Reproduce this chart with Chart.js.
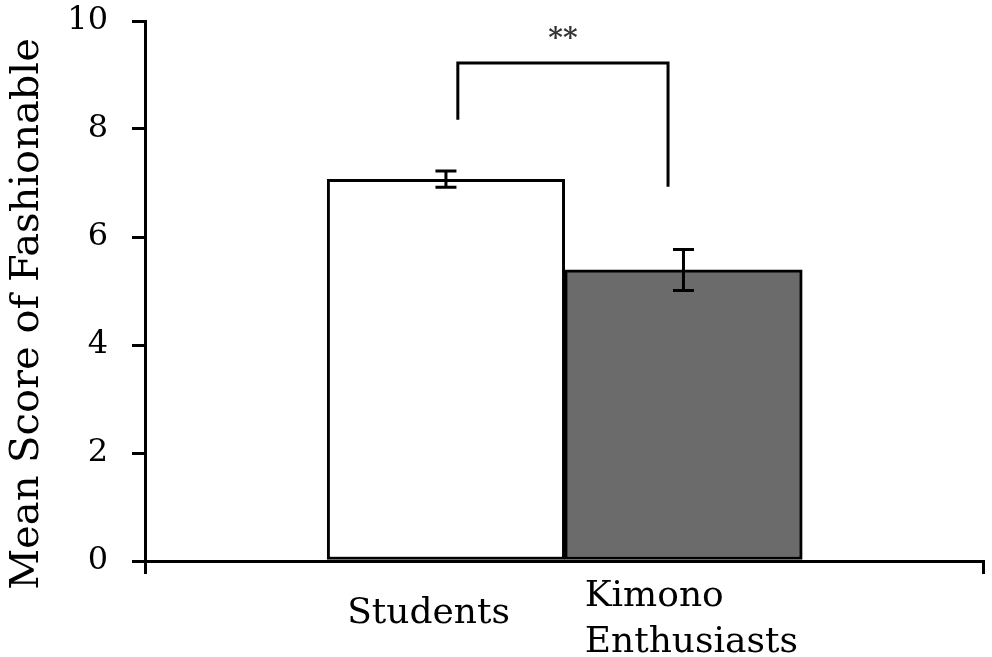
<!DOCTYPE html>
<html>
<head>
<meta charset="utf-8">
<script src="https://cdn.jsdelivr.net/npm/chart.js@4/dist/chart.umd.min.js"></script>
<style>
	html, body { margin: 0; padding: 0; background: #fff; }
	#wrap { width: 992px; height: 657px; }
</style>
</head>
<body>
<div id="wrap"><canvas id="fashion-bar-chart"></canvas></div>

<script>

	// data
	var groups = ['Students', ['Kimono', 'Enthusiasts']];
	var groupPos = [1, 2];
	var meanScore = [7.07, 5.39];
	var errScore = [0.15, 0.38];
	var barColors = ['#ffffff', '#6b6b6b'];
	var yTicks = [0, 2, 4, 6, 8, 10];
	var yTitle = 'Mean Score of Fashionable';

	// significance bracket
	var bracketX = [1.05, 1.935];
	var bracketLegEnd = [8.17, 6.93];
	var bracketTop = 9.22;
	var sigLabel = '**';
	var sigY = 9.72;

	var serif = "'DejaVu Serif', 'Liberation Serif', serif";

	var extrasPlugin = {
		id: 'extras',
		afterDatasetsDraw: function(chart) {
			var ctx = chart.ctx;
			var xs = chart.scales.x, ys = chart.scales.y;
			var area = chart.chartArea;
			var meta = chart.getDatasetMeta(0);
			ctx.save();
			ctx.strokeStyle = '#000';
			ctx.lineWidth = 3;
			ctx.lineCap = 'butt';

			// error bars
			for (var i = 0; i < meta.data.length; i++) {
				var bx = meta.data[i].x;
				var yHi = ys.getPixelForValue(meanScore[i] + errScore[i]);
				var yLo = ys.getPixelForValue(meanScore[i] - errScore[i]);
				ctx.beginPath();
				ctx.moveTo(bx, yHi); ctx.lineTo(bx, yLo);
				ctx.moveTo(bx - 10.5, yHi); ctx.lineTo(bx + 10.5, yHi);
				ctx.moveTo(bx - 10.5, yLo); ctx.lineTo(bx + 10.5, yLo);
				ctx.stroke();
			}

			// bracket
			var x0 = xs.getPixelForValue(bracketX[0]);
			var x1 = xs.getPixelForValue(bracketX[1]);
			var yt = ys.getPixelForValue(bracketTop);
			ctx.beginPath();
			ctx.lineJoin = 'miter';
			ctx.moveTo(x0, ys.getPixelForValue(bracketLegEnd[0]));
			ctx.lineTo(x0, yt);
			ctx.lineTo(x1, yt);
			ctx.lineTo(x1, ys.getPixelForValue(bracketLegEnd[1]));
			ctx.stroke();

			ctx.fillStyle = '#333';
			ctx.font = 'bold 28px ' + serif;
			ctx.textAlign = 'center';
			ctx.textBaseline = 'middle';
			ctx.fillText(sigLabel, (x0 + x1) / 2, ys.getPixelForValue(sigY) + 4);

			// category labels under the bars
			ctx.fillStyle = '#000';
			ctx.font = '36px ' + serif;
			ctx.textAlign = 'left';
			ctx.textBaseline = 'alphabetic';
			for (var j = 0; j < meta.data.length; j++) {
				var bar = meta.data[j];
				var left = bar.x - bar.width / 2 + 20;
				var lines = Array.isArray(groups[j]) ? groups[j] : [groups[j]];
				if (lines.length === 1) {
					ctx.fillText(lines[0], left, area.bottom + 62);
				} else {
					ctx.fillText(lines[0], left, area.bottom + 45);
					ctx.fillText(lines[1], left, area.bottom + 91);
				}
			}

			// y axis title, sits a little below the middle of the axis
			ctx.translate(ys.left + 28, (area.top + area.bottom) / 2 + 23);
			ctx.rotate(-Math.PI / 2);
			ctx.font = '40px ' + serif;
			ctx.textAlign = 'center';
			ctx.textBaseline = 'middle';
			ctx.fillText(yTitle, 0, 0);
			ctx.restore();
		}
	};

	new Chart(document.getElementById('fashion-bar-chart'), {
		type: 'bar',
		data: {
			datasets: [{
				data: groupPos.map(function(p, i) { return { x: p, y: meanScore[i] }; }),
				backgroundColor: barColors,
				borderColor: '#000',
				borderWidth: 3,
				borderSkipped: false,
				categoryPercentage: 1,
				barPercentage: 1
			}]
		},
		options: {
			responsive: true,
			maintainAspectRatio: false,
			animation: false,
			layout: { padding: { top: 21, right: 9, bottom: 0, left: 0 } },
			plugins: {
				legend: { display: false },
				tooltip: { enabled: false }
			},
			scales: {
				x: {
					type: 'linear',
					min: -0.267,
					max: 3.261,
					offset: false,
					afterBuildTicks: function(scale) {
						scale.ticks = [{ value: scale.min }, { value: scale.max }];
					},
					afterFit: function(scale) {
						scale.height = 96;
						scale.paddingLeft = 0;
						scale.paddingRight = 0;
					},
					ticks: { callback: function() { return ''; } },
					grid: {
						offset: false,
						drawOnChartArea: false,
						drawTicks: true,
						tickLength: 13,
						color: '#000',
						lineWidth: 3
					},
					border: { color: '#000', width: 3 }
				},
				y: {
					min: 0,
					max: 10,
					afterBuildTicks: function(scale) {
						scale.ticks = yTicks.map(function(v) { return { value: v }; });
					},
					afterFit: function(scale) {
						scale.width = 145;
						scale.paddingTop = 0;
						scale.paddingBottom = 0;
					},
					ticks: {
						padding: 24,
						color: '#000',
						font: { family: serif, size: 32 }
					},
					grid: {
						drawOnChartArea: false,
						drawTicks: true,
						tickLength: 13,
						color: '#000',
						lineWidth: 3
					},
					border: { color: '#000', width: 3 }
				}
			}
		},
		plugins: [extrasPlugin]
	});

</script>
</body>
</html>
